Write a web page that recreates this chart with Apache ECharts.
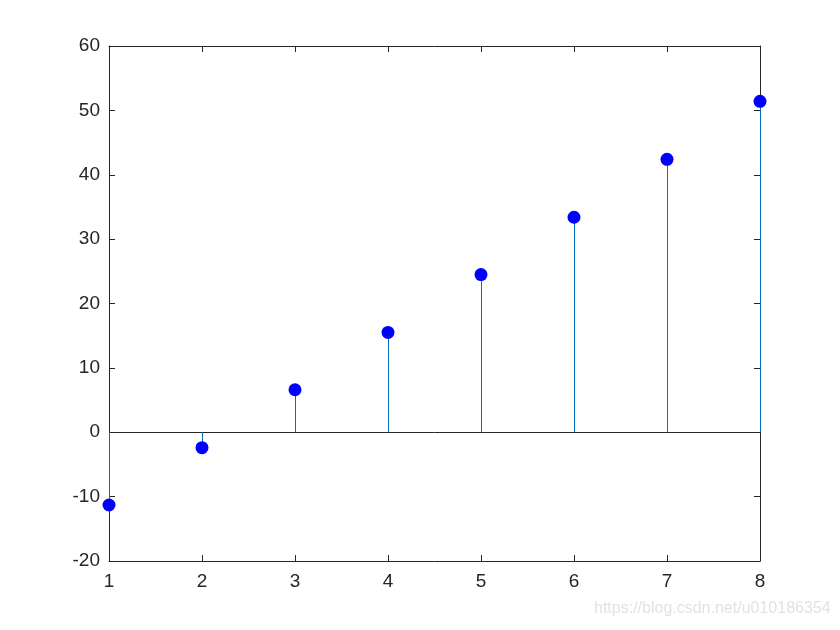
<!DOCTYPE html>
<html><head><meta charset="utf-8">
<script src="https://cdn.jsdelivr.net/npm/echarts@6/dist/echarts.min.js"></script>
<style>html,body{margin:0;padding:0;background:#fff}#c{width:840px;height:630px}</style>
</head><body><div id="c"></div>
<script>
const xValues = [1, 2, 3, 4, 5, 6, 7, 8];
const yValues = [-11.3, -2.4, 6.6, 15.5, 24.5, 33.4, 42.4, 51.4];
const xTicks = [1, 2, 3, 4, 5, 6, 7, 8];
const yTicks = [-20, -10, 0, 10, 20, 30, 40, 50, 60];

const pts = xValues.map((x, i) => [x, yValues[i]]);
const chart = echarts.init(document.getElementById('c'), null, {renderer: 'canvas'});
const font = 'Liberation Sans, Arial, sans-serif';
const axisLine = {show: true, onZero: false, lineStyle: {color: '#262626', width: 1}};
const tick = {show: true, inside: true, length: 6, lineStyle: {color: '#262626', width: 1}};
chart.setOption({
  animation: false,
  backgroundColor: '#fff',
  grid: {left: 109, right: 80, top: 46, bottom: 69},
  xAxis: [
    {type: 'value', min: 1, max: 8, interval: 1, position: 'bottom',
     axisLine, axisTick: tick, splitLine: {show: false},
     axisLabel: {color: '#262626', fontSize: 19, fontFamily: font, margin: 11}},
    {type: 'value', min: 1, max: 8, interval: 1, position: 'top',
     axisLine, axisTick: tick, splitLine: {show: false}, axisLabel: {show: false}}
  ],
  yAxis: [
    {type: 'value', min: -20, max: 60, interval: 10, position: 'left',
     axisLine, axisTick: tick, splitLine: {show: false},
     axisLabel: {color: '#262626', fontSize: 19, fontFamily: font, margin: 9}},
    {type: 'value', min: -20, max: 60, interval: 10, position: 'right',
     axisLine, axisTick: tick, splitLine: {show: false}, axisLabel: {show: false}}
  ],
  series: [
    {type: 'custom', xAxisIndex: 0, yAxisIndex: 0, data: pts, zlevel: 1, z: 5, clip: false,
     renderItem: function (params, api) {
       const p0 = api.coord([api.value(0), 0]);
       const p1 = api.coord([api.value(0), api.value(1)]);
       const x = Math.round(p0[0]) + 0.5;
       return {type: 'line', shape: {x1: x, y1: p0[1], x2: x, y2: p1[1]},
               style: {stroke: '#0072BD', lineWidth: 1}};
     },
     markLine: {silent: true, symbol: 'none', label: {show: false},
       lineStyle: {color: '#262626', width: 1, type: 'solid'},
       data: [{yAxis: 0}]}
    },
    {type: 'scatter', xAxisIndex: 0, yAxisIndex: 0, data: pts, zlevel: 1, z: 6, clip: false,
     symbol: 'circle', symbolSize: 13,
     itemStyle: {color: '#0000FF', opacity: 1}}
  ],
  graphic: [{type: 'text', left: 594, top: 601,
    style: {text: 'https://blog.csdn.net/u010186354', fill: '#e2e2e2', fontSize: 16, fontFamily: font}}]
});
</script></body></html>
